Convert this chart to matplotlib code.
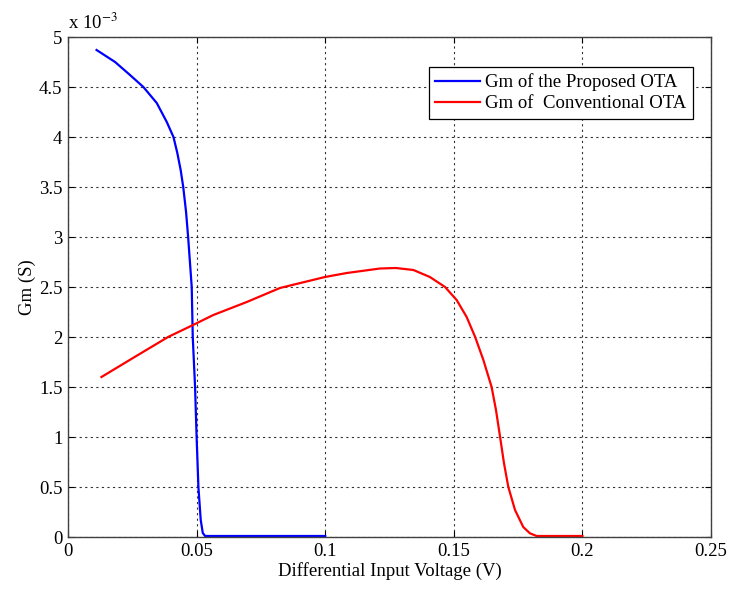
import matplotlib
matplotlib.use("Agg")
import matplotlib.pyplot as plt

# -----------------------------
# Data (Gm in units of 1e-3 S)
# -----------------------------
v_proposed = [0.0111, 0.0183, 0.0241, 0.0293, 0.0345, 0.0384, 0.0410, 0.0425,
              0.0438, 0.0448, 0.0459, 0.0467, 0.0474, 0.0481, 0.0485, 0.0494,
              0.0500, 0.0507, 0.0516, 0.0524, 0.0533, 0.060, 0.080, 0.100]
gm_proposed = [4.87, 4.75, 4.62, 4.50, 4.34, 4.15, 4.00, 3.84,
               3.67, 3.50, 3.25, 3.00, 2.75, 2.50, 2.00, 1.50,
               1.00, 0.50, 0.17, 0.04, 0.01, 0.01, 0.01, 0.01]

v_conv = [0.013, 0.0259, 0.0389, 0.0486, 0.0565, 0.0695, 0.0824, 0.0999,
          0.1084, 0.1213, 0.1275, 0.1343, 0.1407, 0.1466, 0.1511, 0.1550,
          0.1583, 0.1615, 0.1647, 0.1664, 0.1680, 0.1695, 0.1712, 0.1738,
          0.1770, 0.1796, 0.1822, 0.190, 0.200]
gm_conv = [1.60, 1.80, 2.00, 2.12, 2.22, 2.35, 2.49, 2.60,
           2.64, 2.685, 2.69, 2.67, 2.60, 2.50, 2.37, 2.20,
           2.00, 1.77, 1.50, 1.27, 1.00, 0.74, 0.50, 0.27,
           0.10, 0.037, 0.01, 0.01, 0.01]

x_ticks = [0, 0.05, 0.1, 0.15, 0.2, 0.25]
x_tick_labels = ["0", "0.05", "0.1", "0.15", "0.2", "0.25"]
y_ticks = [0, 0.5, 1, 1.5, 2, 2.5, 3, 3.5, 4, 4.5, 5]
y_tick_labels = ["0", "0.5", "1", "1.5", "2", "2.5", "3", "3.5", "4", "4.5", "5"]

# -----------------------------
# Style
# -----------------------------
plt.rcParams['font.family'] = ['Liberation Serif', 'DejaVu Serif']
plt.rcParams['mathtext.fontset'] = 'stix'
fs = 13.5

fig = plt.figure(figsize=(7.29, 5.92), dpi=100)
ax = fig.add_axes([0.0933, 0.0929, 0.882, 0.8446])

ax.plot(v_proposed, gm_proposed, color='#0000ff', linewidth=1.6,
        label='Gm of the Proposed OTA')
ax.plot(v_conv, gm_conv, color='#ff0000', linewidth=1.6,
        label='Gm of  Conventional OTA')

ax.set_xlim(0, 0.25)
ax.set_ylim(0, 5)
ax.set_xticks(x_ticks)
ax.set_xticklabels(x_tick_labels)
ax.set_yticks(y_ticks)
ax.set_yticklabels(y_tick_labels)

ax.grid(True, color='black', linestyle=(0, (2, 3)), linewidth=0.8, alpha=0.8)
ax.tick_params(direction='in', top=True, right=True, length=4, width=0.8,
               labelsize=fs, pad=4)
for s in ax.spines.values():
    s.set_color('0.25')
    s.set_linewidth(1.0)

ax.set_xlabel('Differential Input Voltage (V)', fontsize=fs, labelpad=2)
ax.set_ylabel('Gm (S)', fontsize=fs, labelpad=2)
ax.text(0.0, 1.008, r'x 10$^{-3}$', transform=ax.transAxes, ha='left',
        va='bottom', fontsize=fs)

leg = ax.legend(loc='upper right', bbox_to_anchor=(0.972, 0.94),
                borderaxespad=0, fancybox=False, framealpha=1,
                edgecolor='black', handlelength=2.35, handletextpad=0.3,
                fontsize=fs, borderpad=0.35, labelspacing=0.2)
leg.get_frame().set_linewidth(0.9)

fig.savefig('out.png', dpi=100)
